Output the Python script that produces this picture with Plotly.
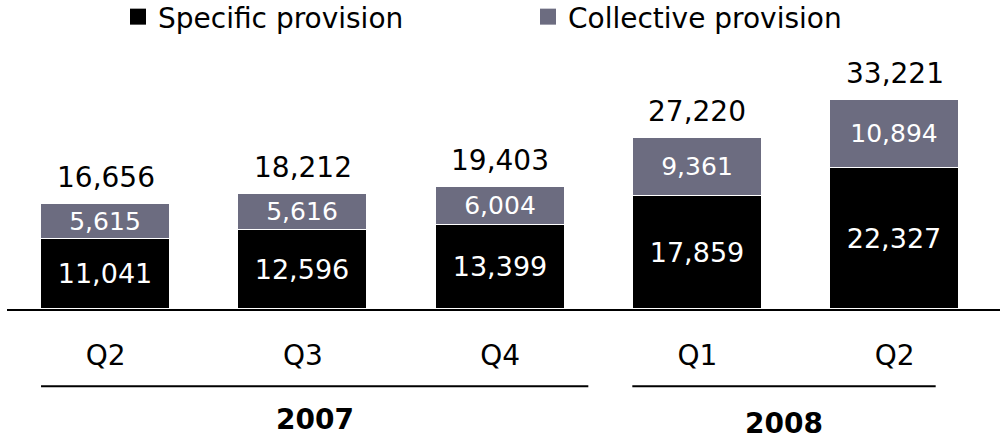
import plotly.graph_objects as go

# Loan-loss provisions by quarter (stacked)
quarters = ["Q2", "Q3", "Q4", "Q1", "Q2"]
years = ["2007", "2008"]
year_groups = [[0, 1, 2], [3, 4]]
specific = [11041, 12596, 13399, 17859, 22327]
collective = [5615, 5616, 6004, 9361, 10894]
series_names = ["Specific provision", "Collective provision"]

FONT = "DejaVu Sans"
BLACK = "#000000"
GREY = "#6C6C80"
BAR_W = 0.655

x = list(range(len(quarters)))
totals = [s + c for s, c in zip(specific, collective)]

fig = go.Figure()

for vals, color, size in [(specific, BLACK, 27), (collective, GREY, 25)]:
    fig.add_trace(go.Bar(
        x=x, y=vals, width=BAR_W,
        marker=dict(color=color, line=dict(color="white", width=1)),
        texttemplate="%{y:,}", textposition="inside",
        insidetextanchor="middle", constraintext="none",
        textfont=dict(family=FONT, size=size, color="white"),
        showlegend=False, hoverinfo="skip",
    ))

# legend entries with larger square swatches
for name, color in zip(series_names, [BLACK, GREY]):
    fig.add_trace(go.Scatter(
        x=[None], y=[None], mode="markers", name=name,
        marker=dict(symbol="square", size=16, color=color, line=dict(width=0)),
    ))

# totals above each stack
for xi, t in zip(x, totals):
    fig.add_annotation(
        x=xi, y=t, text=f"{t:,}", showarrow=False,
        yanchor="bottom", yshift=8,
        font=dict(family=FONT, size=28, color="black"),
    )

# year brackets below the quarter labels
line_y = -0.31
pads = [(-BAR_W / 2, 0.447), (-0.33, 0.208)]
shifts = [-16, -20]
for label, grp, (pl, pr), ys in zip(years, year_groups, pads, shifts):
    x0 = grp[0] + pl
    x1 = grp[-1] + pr
    fig.add_shape(type="line", xref="x", yref="paper",
                  x0=x0, x1=x1, y0=line_y, y1=line_y,
                  line=dict(color="black", width=2))
    fig.add_annotation(
        x=(x0 + x1) / 2, xref="x", y=line_y, yref="paper",
        text=f"<b>{label}</b>", showarrow=False, yanchor="top",
        yshift=ys, borderpad=0,
        font=dict(family=FONT, size=28, color="black"),
    )

fig.update_layout(
    width=1004, height=446,
    barmode="stack", bargap=0,
    margin=dict(l=7, r=4, t=60, b=137),
    paper_bgcolor="white", plot_bgcolor="white",
    showlegend=True,
    legend=dict(
        orientation="h", xref="container", yref="container",
        x=118 / 1004, y=0.962, xanchor="left", yanchor="middle",
        traceorder="normal",
        entrywidth=365, entrywidthmode="pixels",
        font=dict(family=FONT, size=28, color="black"),
        bgcolor="rgba(0,0,0,0)", borderwidth=0,
    ),
    xaxis=dict(
        range=[-0.5, 4.534], tickvals=x, ticktext=quarters,
        showgrid=False, zeroline=False, showline=True,
        linecolor="black", linewidth=2, ticks="",
        ticklabelstandoff=20,
        tickfont=dict(family=FONT, size=28, color="black"),
        fixedrange=True,
    ),
    yaxis=dict(
        range=[0, 39524], visible=False, showgrid=False,
        zeroline=False, fixedrange=True,
    ),
)

fig.write_html("out.html")
